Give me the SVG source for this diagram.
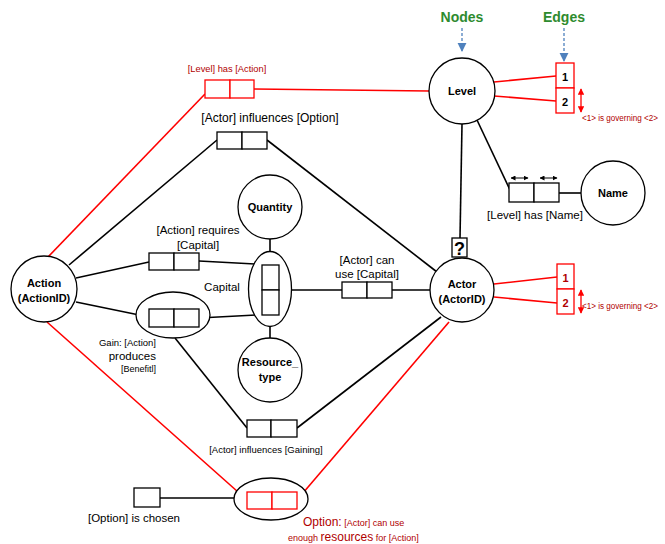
<svg xmlns="http://www.w3.org/2000/svg" width="665" height="544" viewBox="0 0 665 544">
<style>
.n{fill:#fff;stroke:#000;stroke-width:1.3}
.b{fill:#fff;stroke:#000;stroke-width:1.3}
.rb{fill:#fff;stroke:#ff0000;stroke-width:1.3}
.e{stroke:#000;stroke-width:1.6;fill:none}
.r{stroke:#ff0000;stroke-width:1.6;fill:none}
text{font-family:"Liberation Sans",Arial,sans-serif;fill:#000}
.nl{font-size:11px;font-weight:bold;text-anchor:middle}
.el{font-size:11.5px;text-anchor:middle}
.dr{fill:#b00000}
.g{font-size:14px;font-weight:bold;fill:#2e8b2e;text-anchor:middle}
</style>
<defs>
<marker id="ab" viewBox="0 0 10 10" refX="9" refY="5" markerWidth="7" markerHeight="7" orient="auto"><path d="M0,0L10,5L0,10z" fill="#4f81bd"/></marker>
<marker id="ar" viewBox="0 0 10 10" refX="9" refY="5" markerWidth="5" markerHeight="5" orient="auto-start-reverse"><path d="M0,0L10,5L0,10z" fill="#ff0000"/></marker>
<marker id="ak" viewBox="0 0 10 10" refX="9" refY="5" markerWidth="5" markerHeight="5" orient="auto-start-reverse"><path d="M0,0L10,5L0,10z" fill="#000"/></marker>
</defs>

<g id="connectors">
<line class="e" x1="462" y1="124" x2="460" y2="238"/>
<line class="e" x1="477" y1="120" x2="510" y2="190"/>
<line class="e" x1="559" y1="193" x2="581" y2="193"/>
<line class="e" x1="69" y1="265" x2="217" y2="140"/>
<line class="e" x1="267" y1="140" x2="437" y2="272"/>
<line class="e" x1="76" y1="278" x2="149" y2="262"/>
<line class="e" x1="199" y1="261" x2="255" y2="264"/>
<line class="e" x1="76" y1="302" x2="149" y2="317"/>
<line class="e" x1="199" y1="318" x2="256" y2="315"/>
<line class="e" x1="270" y1="239" x2="270" y2="265"/>
<line class="e" x1="270" y1="315" x2="270" y2="338"/>
<line class="e" x1="292" y1="290" x2="342" y2="290"/>
<line class="e" x1="392" y1="290" x2="430" y2="290"/>
<line class="e" x1="175" y1="338" x2="247" y2="428"/>
<line class="e" x1="297" y1="428" x2="441" y2="317"/>
<line class="e" x1="160" y1="498" x2="234" y2="498"/>
<line class="r" x1="254" y1="89" x2="429" y2="91"/>
<line class="r" x1="205" y1="94" x2="48" y2="257"/>
<line class="r" x1="47" y1="322" x2="247" y2="500"/>
<line class="r" x1="449" y1="322" x2="297" y2="500"/>
<line class="r" x1="494" y1="82" x2="556" y2="76"/>
<line class="r" x1="494" y1="96" x2="556" y2="101"/>
<line class="r" x1="494" y1="284" x2="557" y2="277"/>
<line class="r" x1="494" y1="297" x2="557" y2="303"/>
<line x1="462" y1="28" x2="462" y2="51" stroke="#4f81bd" stroke-width="1.3" stroke-dasharray="3,2" marker-end="url(#ab)"/>
<line x1="564" y1="28" x2="564" y2="61" stroke="#4f81bd" stroke-width="1.3" stroke-dasharray="3,2" marker-end="url(#ab)"/>
<line x1="581" y1="89" x2="581" y2="112" stroke="#ff0000" stroke-width="1.3" marker-start="url(#ar)" marker-end="url(#ar)"/>
<line x1="581" y1="290" x2="581" y2="313" stroke="#ff0000" stroke-width="1.3" marker-start="url(#ar)" marker-end="url(#ar)"/>
<line x1="511" y1="178" x2="528" y2="178" stroke="#000" stroke-width="1" marker-start="url(#ak)" marker-end="url(#ak)"/>
<line x1="540" y1="178" x2="557" y2="178" stroke="#000" stroke-width="1" marker-start="url(#ak)" marker-end="url(#ak)"/>
</g>

<g id="legend-nodes"><text class="g" x="462" y="22">Nodes</text></g>
<g id="legend-edges"><text class="g" x="564" y="22">Edges</text></g>

<g id="level"><circle class="n" cx="462" cy="91" r="33"/><text class="nl" x="462" y="95">Level</text></g>
<g id="action"><circle class="n" cx="44" cy="289" r="33"/><text class="nl" x="44" y="287">Action</text><text class="nl" x="44" y="302">(ActionID)</text></g>
<g id="actor"><circle class="n" cx="462" cy="290" r="32"/><text class="nl" x="462" y="288">Actor</text><text class="nl" x="462" y="303">(ActorID)</text></g>
<g id="name"><circle class="n" cx="613" cy="193" r="32"/><text class="nl" x="613" y="197">Name</text></g>
<g id="quantity"><circle class="n" cx="270" cy="207" r="32"/><text class="nl" x="270" y="211" font-size="10.5">Quantity</text></g>
<g id="resource-type"><circle class="n" cx="270" cy="370" r="32"/><text class="nl" x="270" y="366" font-size="10.5">Resource_</text><text class="nl" x="270" y="381" font-size="10.5">type</text></g>

<g id="question"><rect class="b" x="452" y="238" width="15" height="19"/><text x="459.5" y="255" font-size="18" font-weight="bold" text-anchor="middle">?</text></g>

<g id="level-edges">
<rect class="rb" x="556" y="63" width="18" height="25"/><rect class="rb" x="556" y="88" width="18" height="25"/>
<text x="565" y="81" font-size="11" font-weight="bold" text-anchor="middle" fill="#7030a0">1</text>
<text x="565" y="106" font-size="11" font-weight="bold" text-anchor="middle" fill="#b030b0">2</text>
<text class="dr" x="582" y="121" font-size="8.5" textLength="76" lengthAdjust="spacingAndGlyphs">&lt;1&gt; is governing &lt;2&gt;</text>
</g>
<g id="actor-edges">
<rect class="rb" x="557" y="264" width="17" height="25"/><rect class="rb" x="557" y="289" width="17" height="25"/>
<text class="dr" x="565.5" y="282" font-size="11" font-weight="bold" text-anchor="middle">1</text>
<text class="dr" x="565.5" y="307" font-size="11" font-weight="bold" text-anchor="middle">2</text>
<text class="dr" x="582" y="309" font-size="8.5" textLength="76" lengthAdjust="spacingAndGlyphs">&lt;1&gt; is governing &lt;2&gt;</text>
</g>

<g id="level-has-action">
<rect class="rb" x="205" y="80" width="25" height="18"/><rect class="rb" x="230" y="80" width="24" height="18"/>
<text class="dr" x="227" y="72" font-size="9.3" text-anchor="middle">[Level] has [Action]</text>
</g>
<g id="level-has-name">
<rect class="b" x="509" y="183" width="25" height="19"/><rect class="b" x="534" y="183" width="25" height="19"/>
<text class="el" x="535" y="219" font-size="12">[Level] has [Name]</text>
</g>
<g id="actor-influences-option">
<rect class="b" x="217" y="132" width="25" height="17"/><rect class="b" x="242" y="132" width="25" height="17"/>
<text class="el" x="270" y="122" style="font-size:12px">[Actor] influences [Option]</text>
</g>
<g id="action-requires-capital">
<rect class="b" x="149" y="253" width="25" height="17"/><rect class="b" x="174" y="253" width="25" height="17"/>
<text class="el" x="198" y="234">[Action] requires</text>
<text class="el" x="198" y="249">[Capital]</text>
</g>
<g id="capital">
<ellipse class="n" cx="270" cy="289" rx="21.5" ry="37.5"/>
<rect class="b" x="262" y="265" width="17" height="25"/><rect class="b" x="262" y="290" width="17" height="25"/>
<text x="222" y="291" font-size="11.5" text-anchor="middle">Capital</text>
</g>
<g id="gain">
<ellipse class="n" cx="173" cy="315" rx="37" ry="23"/>
<rect class="b" x="149" y="309" width="25" height="18"/><rect class="b" x="174" y="309" width="25" height="18"/>
<text x="156" y="346" font-size="9.5" text-anchor="end">Gain: [Action]</text>
<text x="156" y="360" font-size="11.5" text-anchor="end">produces</text>
<text x="156" y="372" font-size="9" text-anchor="end">[Benefitl]</text>
</g>
<g id="actor-can-use-capital">
<rect class="b" x="342" y="282" width="25" height="16"/><rect class="b" x="367" y="282" width="25" height="16"/>
<text class="el" x="367" y="264">[Actor] can</text>
<text class="el" x="367" y="278">use [Capital]</text>
</g>
<g id="actor-influences-gaining">
<rect class="b" x="247" y="420" width="24" height="17"/><rect class="b" x="271" y="420" width="26" height="17"/>
<text x="266" y="453" font-size="9.5" text-anchor="middle">[Actor] influences [Gaining]</text>
</g>
<g id="option">
<ellipse class="n" cx="271" cy="499" rx="37" ry="21"/>
<rect class="rb" x="247" y="492" width="25" height="17"/><rect class="rb" x="272" y="492" width="25" height="17"/>
<text class="dr" x="303" y="526"><tspan font-size="12">Option:</tspan><tspan font-size="9"> [Actor] can use</tspan></text>
<text class="dr" x="288" y="541"><tspan font-size="9">enough </tspan><tspan font-size="12">resources</tspan><tspan font-size="9"> for [Action]</tspan></text>
</g>
<g id="option-is-chosen">
<rect class="b" x="134" y="488" width="26" height="19"/>
<text x="134" y="522" font-size="11.5" text-anchor="middle">[Option] is chosen</text>
</g>
</svg>
